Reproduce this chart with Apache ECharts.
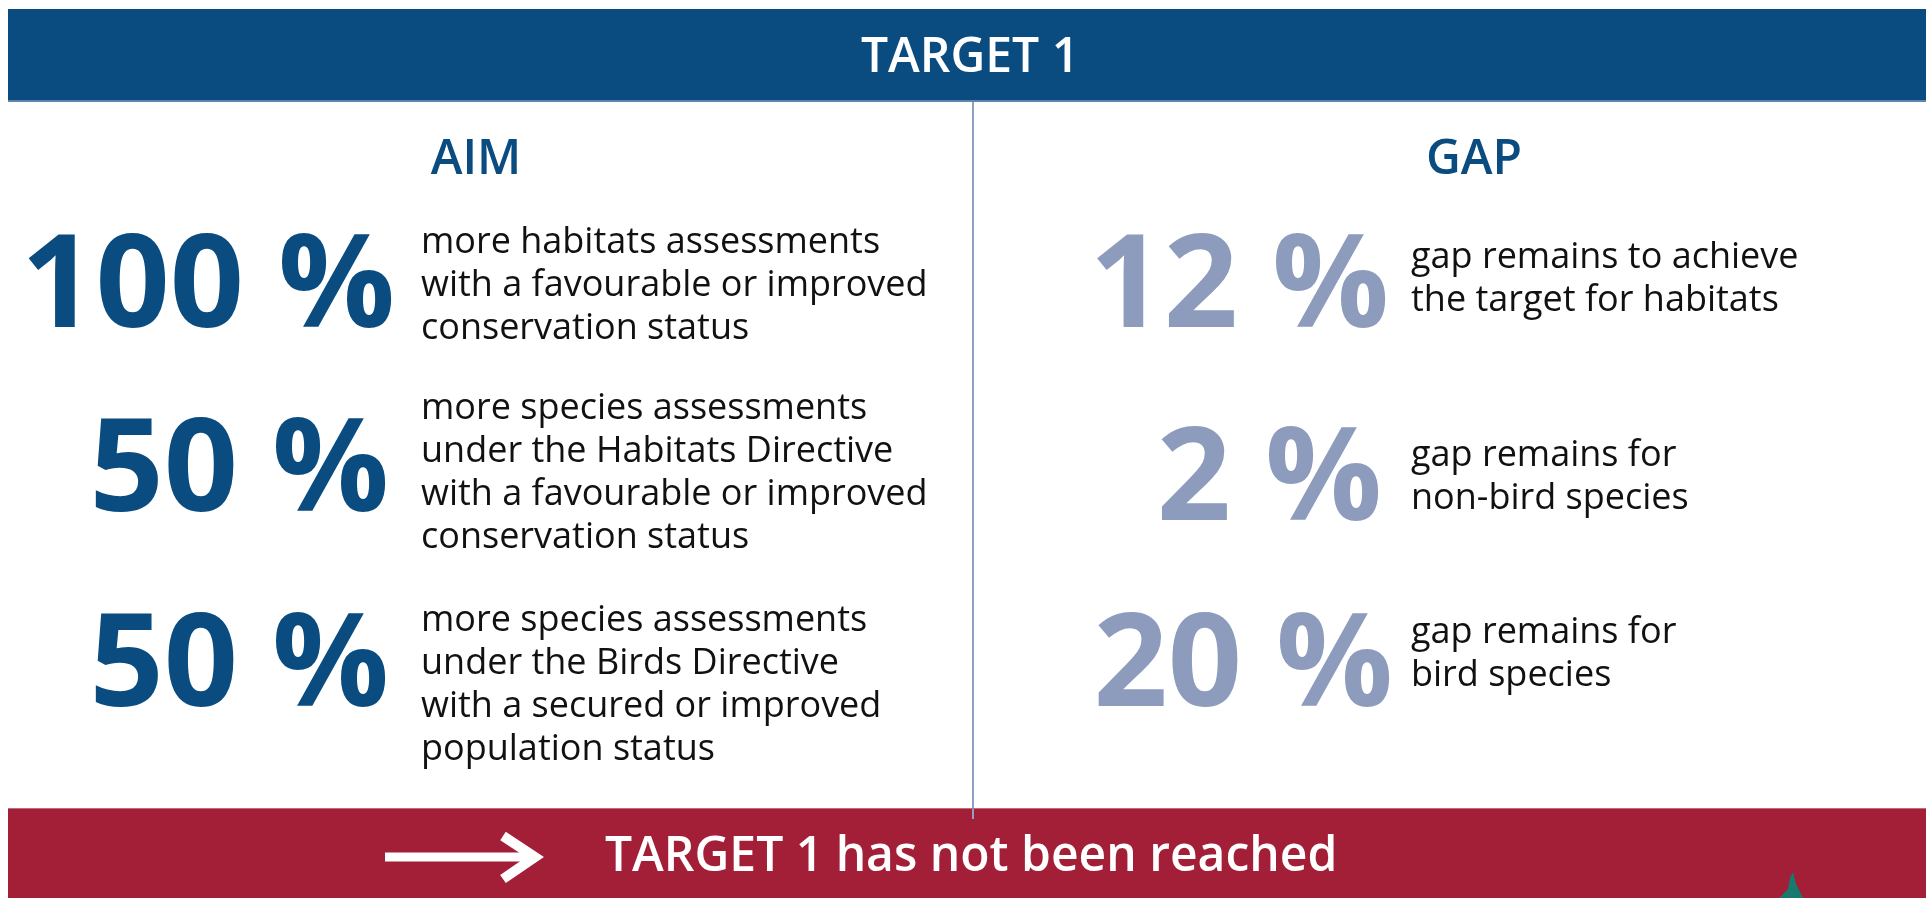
<!DOCTYPE html>
<html>
<head>
<meta charset="utf-8">
<script src="https://cdn.jsdelivr.net/npm/echarts@6/dist/echarts.min.js"></script>
<style>
html,body{margin:0;padding:0;background:#fff;}
#main{width:1926px;height:898px;}
</style>
</head>
<body>
<div id="main"></div>
<script>
// ---- data ----
const titleText = 'TARGET 1';
const leftHeader = 'AIM';
const rightHeader = 'GAP';
const aimValues = [100, 50, 50];
const aimLabels = [
  ['more habitats assessments', 'with a favourable or improved', 'conservation status'],
  ['more species assessments', 'under the Habitats Directive', 'with a favourable or improved', 'conservation status'],
  ['more species assessments', 'under the Birds Directive', 'with a secured or improved', 'population status']
];
const gapValues = [12, 2, 20];
const gapLabels = [
  ['gap remains to achieve', 'the target for habitats'],
  ['gap remains for', 'non-bird species'],
  ['gap remains for', 'bird species']
];
const conclusionText = 'TARGET 1 has not been reached';

// ---- layout / style ----
const FONT = '"Open Sans", "Noto Sans", sans-serif';
const BLUE = '#0a4c80';
const SLATE = '#8d9cbd';
const RED = '#a31e37';
const MID = 0.29; // offset from baseline to "middle" anchor (em)

const chart = echarts.init(document.getElementById('main'), null, {renderer: 'canvas'});
const g = [];

// top band
g.push({type: 'rect', shape: {x: 8, y: 9, width: 1918, height: 92}, style: {fill: BLUE}, z: 1});
g.push({type: 'rect', shape: {x: 8, y: 100, width: 1918, height: 2}, style: {fill: '#5f84b0'}, z: 2});
g.push({type: 'text', x: 970, y: 72 - MID * 48, style: {text: titleText, fill: '#fff', fontFamily: FONT, fontWeight: 600, fontSize: 48, align: 'center', verticalAlign: 'middle'}, z: 3});

// divider
g.push({type: 'rect', shape: {x: 972, y: 102, width: 2, height: 717}, style: {fill: '#8fa0c6'}, z: 1});

// headers
g.push({type: 'text', x: 476, y: 174 - MID * 48, style: {text: leftHeader, fill: BLUE, fontFamily: FONT, fontWeight: 600, fontSize: 48, align: 'center', verticalAlign: 'middle'}, z: 3});
g.push({type: 'text', x: 1474, y: 174 - MID * 48, style: {text: rightHeader, fill: BLUE, fontFamily: FONT, fontWeight: 600, fontSize: 48, align: 'center', verticalAlign: 'middle'}, z: 3});

const NUM_SIZE = 130;
const TXT_SIZE = 36;
const LINE = 43;
const leftNumRight = [395, 389, 389];
const leftNumBase = [328, 512, 707];
const leftTxtBase = [253, 419, 631];
const rightNumRight = [1389, 1382, 1393];
const rightNumBase = [328, 521, 707];
const rightTxtBase = [268, 466, 643];

function addBlock(value, lines, numRight, numBase, txtX, txtBase, color) {
  g.push({type: 'text', x: numRight, y: numBase - MID * NUM_SIZE, style: {text: value + ' %', fill: color, fontFamily: FONT, fontWeight: 700, fontSize: NUM_SIZE, align: 'right', verticalAlign: 'middle'}, z: 3});
  lines.forEach((ln, i) => {
    g.push({type: 'text', x: txtX, y: txtBase + i * LINE - MID * TXT_SIZE, style: {text: ln, fill: '#111', fontFamily: FONT, fontWeight: 400, fontSize: TXT_SIZE, align: 'left', verticalAlign: 'middle'}, z: 3});
  });
}
aimValues.forEach((v, i) => addBlock(v, aimLabels[i], leftNumRight[i], leftNumBase[i], 421, leftTxtBase[i], BLUE));
gapValues.forEach((v, i) => addBlock(v, gapLabels[i], rightNumRight[i], rightNumBase[i], 1411, rightTxtBase[i], SLATE));

// bottom band
g.push({type: 'rect', shape: {x: 8, y: 808, width: 1918, height: 90}, style: {fill: RED}, z: 1});
g.push({type: 'rect', shape: {x: 8, y: 808, width: 1918, height: 1}, style: {fill: '#c06a7a'}, z: 2});
g.push({type: 'rect', shape: {x: 972, y: 809, width: 2, height: 10}, style: {fill: '#8fa0c6'}, z: 2});
g.push({type: 'line', shape: {x1: 385, y1: 857, x2: 532, y2: 857}, style: {stroke: '#fff', lineWidth: 9}, z: 3});
g.push({type: 'polyline', shape: {points: [[503, 836], [535, 857], [503, 879]]}, style: {stroke: '#fff', lineWidth: 10, fill: null, lineJoin: 'miter'}, z: 3});
g.push({type: 'text', x: 605, y: 871 - MID * 48, style: {text: conclusionText, fill: '#fff', fontFamily: FONT, fontWeight: 600, fontSize: 48, align: 'left', verticalAlign: 'middle'}, z: 3});
// small logo fragment
g.push({type: 'polygon', shape: {points: [[1779, 898], [1788, 889], [1790, 878], [1793, 872], [1796, 884], [1803, 898]]}, style: {fill: '#177a6c'}, z: 3});

chart.setOption({backgroundColor: '#fff', animation: false, graphic: {elements: g}});
</script>
</body>
</html>
